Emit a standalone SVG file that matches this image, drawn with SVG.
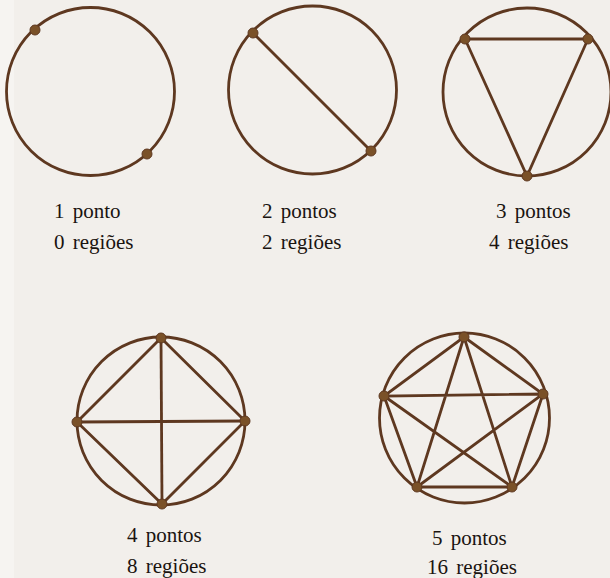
<svg xmlns="http://www.w3.org/2000/svg" width="610" height="578" viewBox="0 0 610 578">
<style>
.c{fill:none;stroke:#5e3820;stroke-width:2.8}
.l{stroke:#5e3820;stroke-width:2.8;fill:none}
.p{fill:#7a5128;stroke:#5e3820;stroke-width:1}
text{font-family:"Liberation Serif","Times New Roman",serif;font-size:21px;fill:#1a1410;word-spacing:3px}
</style>
<rect width="610" height="578" fill="#f2efeb"/>
<rect width="14" height="578" fill="#f6f4f1"/>
<g id="fig1">
<circle class="c" cx="90.5" cy="91.5" r="84"/>
<circle class="p" cx="35" cy="30" r="5"/>
<circle class="p" cx="147" cy="154" r="5"/>
<text x="54" y="218">1 ponto</text>
<text x="54" y="249">0 regiões</text>
</g>
<g id="fig2">
<circle class="c" cx="312.5" cy="90" r="84"/>
<g class="edges"><line class="l" x1="253" y1="33" x2="371" y2="151"/></g>
<circle class="p" cx="253" cy="33" r="5"/>
<circle class="p" cx="371" cy="151" r="5"/>
<text x="262" y="218">2 pontos</text>
<text x="262" y="249">2 regiões</text>
</g>
<g id="fig3">
<circle class="c" cx="527" cy="92" r="84"/>
<g class="edges"><polygon class="l" points="465,39 588,39 527,176"/></g>
<circle class="p" cx="465" cy="39" r="5"/>
<circle class="p" cx="588" cy="39" r="5"/>
<circle class="p" cx="527" cy="176" r="5"/>
<text x="496" y="218">3 pontos</text>
<text x="489" y="249">4 regiões</text>
</g>
<g id="fig4">
<circle class="c" cx="161" cy="421" r="84"/>
<g class="edges">
<polygon class="l" points="161,338 245,421 162,504 77,422"/>
<line class="l" x1="161" y1="338" x2="162" y2="504"/>
<line class="l" x1="77" y1="422" x2="245" y2="421"/>
</g>
<circle class="p" cx="161" cy="338" r="5"/>
<circle class="p" cx="77" cy="422" r="5"/>
<circle class="p" cx="245" cy="421" r="5"/>
<circle class="p" cx="162" cy="504" r="5"/>
<text x="127" y="542">4 pontos</text>
<text x="127" y="573">8 regiões</text>
</g>
<g id="fig5">
<circle class="c" cx="464.5" cy="418" r="85"/>
<g class="edges">
<polygon class="l" points="464,337 543,394 512,487 417,487 384,396"/>
<polygon class="l" points="464,337 512,487 384,396 543,394 417,487"/>
</g>
<circle class="p" cx="464" cy="337" r="5"/>
<circle class="p" cx="543" cy="394" r="5"/>
<circle class="p" cx="512" cy="487" r="5"/>
<circle class="p" cx="417" cy="487" r="5"/>
<circle class="p" cx="384" cy="396" r="5"/>
<text x="432" y="545">5 pontos</text>
<text x="427" y="574">16 regiões</text>
</g>
</svg>
